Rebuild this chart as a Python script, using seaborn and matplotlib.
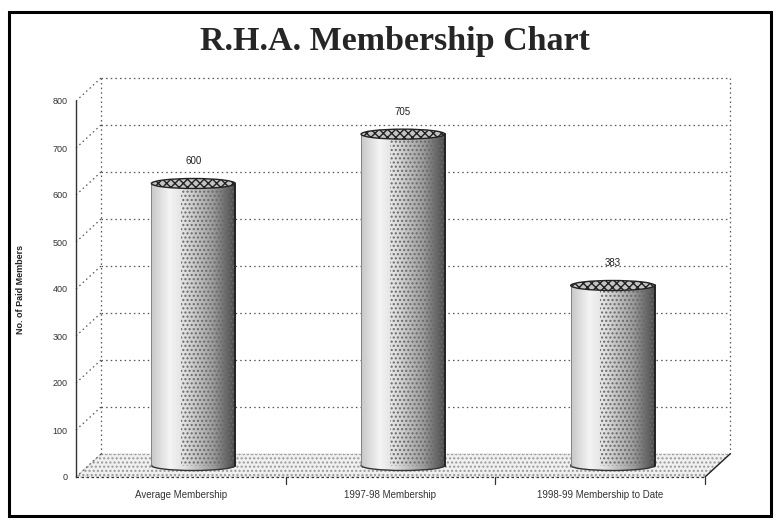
import numpy as np
import matplotlib
matplotlib.use("Agg")
import matplotlib.pyplot as plt
import matplotlib.transforms as mtransforms
from matplotlib.patches import Ellipse, Polygon, Rectangle
import seaborn as sns

# data
categories = ["Average Membership", "1997-98 Membership", "1998-99 Membership to Date"]
members = [600, 705, 383]
y_ticks = [0, 100, 200, 300, 400, 500, 600, 700, 800]

sns.set_style("white")
plt.rcParams["font.family"] = ["Liberation Sans", "DejaVu Sans"]

fig = plt.figure(figsize=(7.75, 5.2), dpi=100)
# axes box in pixels: x 76..705, y 101..477 (from top)
ax = fig.add_axes([76 / 775, 43 / 520, 629 / 775, 376 / 520])

sns.barplot(x=categories, y=members, ax=ax, width=0.4, color="white",
            edgecolor="none", zorder=3)
ax.set_xlim(-0.5, 2.5)
ax.set_ylim(0, 800)

# 3d depth of the old spreadsheet chart, in pixels -> data units
depth_px = (25, 23)
dx = depth_px[0] * 3 / 629
dy = depth_px[1] * 800 / 376
grid_kw = dict(color="#555555", lw=0.9, ls=(0, (1.2, 2.5)), zorder=1, clip_on=False)

# floor
floor = Polygon([(-0.5, 0), (2.5, 0), (2.5 + dx, dy), (-0.5 + dx, dy)], closed=True,
                facecolor="#f0f0f0", edgecolor="#999999", hatch="....", lw=0.6,
                ls=":", zorder=0.5, clip_on=False)
ax.add_patch(floor)

# back wall grid
for v in y_ticks[1:]:
    ax.plot([-0.5 + dx, 2.5 + dx], [v + dy, v + dy], **grid_kw)
for v in y_ticks:
    ax.plot([-0.5, -0.5 + dx], [v, v + dy], **grid_kw)
ax.plot([-0.5 + dx, -0.5 + dx], [dy, 800 + dy], **grid_kw)
ax.plot([2.5 + dx, 2.5 + dx], [dy, 800 + dy], **grid_kw)
ax.plot([-0.5, 2.5], [0, 0], color="#333333", lw=0.9, ls=(0, (2, 2)), zorder=2, clip_on=False)
ax.plot([2.5, 2.5 + dx], [0, dy], color="#222222", lw=1.0, zorder=2, clip_on=False)

# cylinders sit half way into the depth
off = mtransforms.offset_copy(ax.transData, fig=fig, x=depth_px[0] / 2,
                              y=depth_px[1] / 2, units="dots")
shade = matplotlib.colors.LinearSegmentedColormap.from_list(
    "cyl", [(0, "#c8c8c8"), (0.22, "#f4f4f4"), (0.4, "#e0e0e0"),
            (0.75, "#9a9a9a"), (1, "#4a4a4a")])
grad = np.linspace(0, 1, 200).reshape(1, -1)
cap_h = 10 * 800 / 376

for bar, val in zip(ax.patches, members):
    bar.set_transform(off)
    x0, w = bar.get_x(), bar.get_width()
    cx = x0 + w / 2
    im = ax.imshow(grad, cmap=shade, aspect="auto", extent=[x0, x0 + w, -cap_h / 2, val],
                   transform=off, zorder=3, interpolation="bilinear")
    bot = Ellipse((cx, 0), w, cap_h, transform=off, facecolor="none", edgecolor="none")
    ax.add_patch(bot)
    im.set_clip_path(bot)
    im2 = ax.imshow(grad, cmap=shade, aspect="auto", extent=[x0, x0 + w, -cap_h / 2, val],
                    transform=off, zorder=3.1, interpolation="bilinear")
    body = Rectangle((x0, 0), w, val, transform=off, facecolor="none", edgecolor="none")
    ax.add_patch(body)
    im2.set_clip_path(body)
    # scanned stipple texture
    ax.add_patch(Rectangle((x0 + w * 0.35, 0), w * 0.65, val, transform=off,
                           facecolor="none", edgecolor="#6a6a6a", hatch="....",
                           lw=0, zorder=3.2))
    ax.plot([x0, x0], [0, val], color="#777777", lw=0.6, transform=off, zorder=3.5)
    ax.plot([x0 + w, x0 + w], [0, val], color="#222222", lw=1.4, transform=off, zorder=3.5)
    ax.add_patch(Ellipse((cx, 0), w, cap_h, transform=off, facecolor="none",
                         edgecolor="#333333", lw=1.0, zorder=3.05))
    ax.add_patch(Ellipse((cx, val), w, cap_h, transform=off, facecolor="#c4c4c4",
                         edgecolor="#222222", hatch="xxxx", lw=1.0, zorder=4))
    ax.annotate(str(val), (cx, val), xytext=(0, 17), textcoords="offset pixels",
                xycoords=off, ha="center", va="bottom", fontsize=7, color="#222222")

ax.set_ylim(0, 800)
ax.set_xlim(-0.5, 2.5)
sns.despine(ax=ax, top=True, right=True, bottom=True)
ax.spines["left"].set_color("#333333")
ax.spines["left"].set_linewidth(1.0)
ax.set_yticks(y_ticks)
ax.set_yticklabels([str(v) for v in y_ticks], fontsize=6.5, color="#333333")
ax.tick_params(axis="y", direction="out", length=3, width=0.8, color="#333333", pad=3)
ax.set_xticks([0, 1, 2])
ax.set_xticklabels(categories, fontsize=7, color="#333333")
ax.tick_params(axis="x", length=0, pad=9)
for b in [0.5, 1.5, 2.5]:
    ax.plot([b, b], [0, -14], color="#333333", lw=0.9, clip_on=False, zorder=2)
ax.set_xlabel("")
ax.set_ylabel("No. of Paid Members", fontsize=6.5, fontweight="bold", labelpad=20,
              color="#222222")

fig.text(0.51, 0.92, "R.H.A. Membership Chart", ha="center", va="center",
         fontsize=24.5, fontweight="bold", family=["Liberation Serif", "DejaVu Serif"])

frame = Rectangle((9 / 775, 4 / 520), 762 / 775, 504 / 520, transform=fig.transFigure,
                  fill=False, edgecolor="black", lw=2.2)
fig.patches.append(frame)

fig.savefig("out.png", dpi=100)
